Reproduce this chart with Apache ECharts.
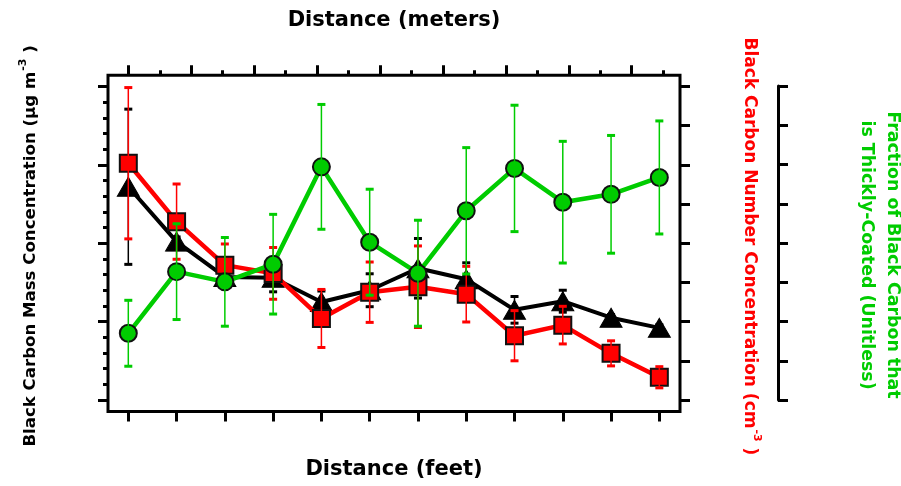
<!DOCTYPE html>
<html>
<head>
<meta charset="utf-8">
<script src="https://cdn.jsdelivr.net/npm/echarts@6/dist/echarts.min.js"></script>
<style>
  html, body { margin: 0; padding: 0; background: #fff; }
  #chart { width: 901px; height: 486px; }
</style>
</head>
<body>
<div id="chart"></div>
<script>
// Sampling distances downwind of the roadway (feet)
const distanceFeet = [0, 5, 10, 15, 20, 25, 30, 35, 40, 45, 50, 55];

// Black carbon mass concentration (left axis) with one-sigma spread
const bcMass    = [2.72, 2.02, 1.57, 1.56, 1.25, 1.40, 1.68, 1.54, 1.15, 1.26, 1.05, 0.92];
const bcMassErr = [0.99, 0.06, 0.06, 0.18, 0.14, 0.21, 0.38, 0.21, 0.17, 0.14, 0.04, 0.04];

// Black carbon number concentration (first right axis)
const bcNumber    = [6.04, 4.55, 3.44, 3.23, 2.08, 2.75, 2.89, 2.70, 1.64, 1.91, 1.19, 0.58];
const bcNumberErr = [1.93, 0.96, 0.54, 0.66, 0.74, 0.77, 1.04, 0.71, 0.64, 0.48, 0.32, 0.27];

// Fraction of black carbon particles that are thickly coated (second right axis)
const thickFraction    = [0.170, 0.327, 0.301, 0.346, 0.594, 0.402, 0.323, 0.482, 0.590, 0.504, 0.524, 0.567];
const thickFractionErr = [0.084, 0.122, 0.113, 0.127, 0.159, 0.135, 0.135, 0.161, 0.161, 0.155, 0.150, 0.144];

// Tick positions (no tick labels are drawn)
const feetTicks        = [0, 5, 10, 15, 20, 25, 30, 35, 40, 45, 50, 55];
const meterMajorTicks  = [0, 2, 4, 6, 8, 10, 12, 14, 16];
const meterMinorTicks  = [1, 3, 5, 7, 9, 11, 13, 15, 17];
const massMajorTicks   = [0, 1, 2, 3, 4];
const massMinorTicks   = [0.2, 0.4, 0.6, 0.8, 1.2, 1.4, 1.6, 1.8, 2.2, 2.4, 2.6, 2.8, 3.2, 3.4, 3.6, 3.8];
const numberTicks      = [0, 1, 2, 3, 4, 5, 6, 7, 8];
const fractionTicks    = [0, 0.1, 0.2, 0.3, 0.4, 0.5, 0.6, 0.7, 0.8];

const BLACK = '#000000';
const RED = '#ff0000';
const GREEN = '#00cc00';
const FONT = 'DejaVu Sans';

const pairs = (xs, ys) => xs.map((x, i) => [x, ys[i]]);
const triples = (xs, ys, es) => xs.map((x, i) => [x, ys[i], es[i]]);

function errorBars(color, capW, capH, lineW) {
  return function (params, api) {
    const x = api.value(0), y = api.value(1), e = api.value(2);
    const hi = api.coord([x, y + e]);
    const lo = api.coord([x, y - e]);
    return {
      type: 'group',
      children: [
        { type: 'line', shape: { x1: hi[0], y1: hi[1], x2: lo[0], y2: lo[1] },
          style: { stroke: color, lineWidth: lineW } },
        { type: 'rect', shape: { x: hi[0] - capW / 2, y: hi[1] - capH / 2, width: capW, height: capH },
          style: { fill: color } },
        { type: 'rect', shape: { x: lo[0] - capW / 2, y: lo[1] - capH / 2, width: capW, height: capH },
          style: { fill: color } }
      ]
    };
  };
}

function ticks(values, len) {
  return { show: true, inside: false, length: len, customValues: values,
    lineStyle: { color: BLACK, width: 3 } };
}

function tickAxis(extra) {
  return Object.assign({
    type: 'value',
    axisLine: { show: false, onZero: false },
    axisLabel: { show: false },
    splitLine: { show: false }
  }, extra);
}

const titleStyle = (color, size) => ({
  color: color, fontFamily: FONT, fontWeight: 'bold', fontSize: size
});

const supStyle = (color) => ({
  fontFamily: FONT, fontWeight: 'bold', fontSize: 11, color: color,
  verticalAlign: 'top', padding: [0, 0, 14, 1]
});

const chart = echarts.init(document.getElementById('chart'), null, { renderer: 'canvas' });

chart.setOption({
  animation: false,
  backgroundColor: '#ffffff',
  grid: [
    { left: 108, right: 221, top: 75.3, bottom: 74.5, show: true, outerBoundsMode: 'none',
      borderWidth: 3, borderColor: BLACK, backgroundColor: 'transparent' },
    { left: 108, right: 221, top: 86, bottom: 86, show: false, outerBoundsMode: 'none' }
  ],
  xAxis: [
    tickAxis({ gridIndex: 0, position: 'bottom', min: -2.103, max: 57.14,
      axisTick: ticks(feetTicks, 10),
      name: 'Distance (feet)', nameLocation: 'middle', nameGap: 48,
      nameTextStyle: Object.assign(titleStyle(BLACK, 21), { verticalAlign: 'top' }) }),
    tickAxis({ gridIndex: 0, position: 'top', min: -0.645, max: 17.536,
      axisTick: ticks(meterMajorTicks, 10),
      name: 'Distance (meters)', nameLocation: 'middle', nameGap: 44,
      nameTextStyle: Object.assign(titleStyle(BLACK, 21), { verticalAlign: 'bottom' }) }),
    tickAxis({ gridIndex: 0, position: 'top', min: -0.645, max: 17.536,
      axisTick: ticks(meterMinorTicks, 5) }),
    tickAxis({ gridIndex: 1, position: 'bottom', min: -2.103, max: 57.14, show: false })
  ],
  yAxis: [
    tickAxis({ gridIndex: 0, position: 'left', min: -0.1467, max: 4.1416,
      axisTick: ticks(massMajorTicks, 10),
      name: 'Black Carbon Mass Concentration (µg m{sup|-3} )',
      nameLocation: 'middle', nameGap: 65,
      nameTextStyle: Object.assign(titleStyle(BLACK, 16.6), {
        padding: [0, 5, 0, 0], rich: { sup: supStyle(BLACK) } }) }),
    tickAxis({ gridIndex: 0, position: 'left', min: -0.1467, max: 4.1416,
      axisTick: ticks(massMinorTicks, 5) }),
    tickAxis({ gridIndex: 0, position: 'right', min: -0.2934, max: 8.283,
      axisTick: ticks(numberTicks, 10),
      name: 'Black Carbon Number Concentration (cm{sup|-3} )',
      nameLocation: 'middle', nameGap: 57, nameRotate: -90,
      nameTextStyle: Object.assign(titleStyle(RED, 17), {
        padding: [0, 0, 0, 6], rich: { sup: supStyle(RED) } }) }),
    tickAxis({ gridIndex: 1, position: 'right', offset: 98, min: 0, max: 0.8,
      axisLine: { show: true, onZero: false, lineStyle: { color: BLACK, width: 3 } },
      axisTick: ticks(fractionTicks, 10),
      name: 'Fraction of Black Carbon that\nis Thickly-Coated (Unitless)',
      nameLocation: 'middle', nameGap: 76, nameRotate: -90,
      nameTextStyle: Object.assign(titleStyle(GREEN, 17.4), {
        lineHeight: 26, padding: [0, 0, 0, 24] }) })
  ],
  series: [
    { type: 'line', name: 'BC mass', xAxisIndex: 0, yAxisIndex: 0, z: 2,
      data: pairs(distanceFeet, bcMass),
      symbol: 'triangle', symbolSize: [22, 19],
      lineStyle: { color: BLACK, width: 4 },
      itemStyle: { color: BLACK, borderColor: BLACK, borderWidth: 1 } },
    { type: 'custom', name: 'BC mass spread', xAxisIndex: 0, yAxisIndex: 0, z: 3,
      data: triples(distanceFeet, bcMass, bcMassErr),
      encode: { x: 0, y: 1 },
      renderItem: errorBars(BLACK, 8, 3, 1.5) },
    { type: 'line', name: 'BC number', xAxisIndex: 0, yAxisIndex: 2, z: 4,
      data: pairs(distanceFeet, bcNumber),
      symbol: 'rect', symbolSize: 17,
      lineStyle: { color: RED, width: 4.5 },
      itemStyle: { color: RED, borderColor: '#111111', borderWidth: 2 } },
    { type: 'custom', name: 'BC number spread', xAxisIndex: 0, yAxisIndex: 2, z: 5,
      data: triples(distanceFeet, bcNumber, bcNumberErr),
      encode: { x: 0, y: 1 },
      renderItem: errorBars(RED, 8, 3, 1.5) },
    { type: 'line', name: 'Thickly coated fraction', xAxisIndex: 3, yAxisIndex: 3, z: 6,
      data: pairs(distanceFeet, thickFraction),
      symbol: 'circle', symbolSize: 17,
      lineStyle: { color: GREEN, width: 4.5 },
      itemStyle: { color: GREEN, borderColor: '#111111', borderWidth: 2 } },
    { type: 'custom', name: 'Thickly coated spread', xAxisIndex: 3, yAxisIndex: 3, z: 7,
      data: triples(distanceFeet, thickFraction, thickFractionErr),
      encode: { x: 0, y: 1 },
      renderItem: errorBars(GREEN, 8, 3, 1.5) }
  ]
});
</script>
</body>
</html>
